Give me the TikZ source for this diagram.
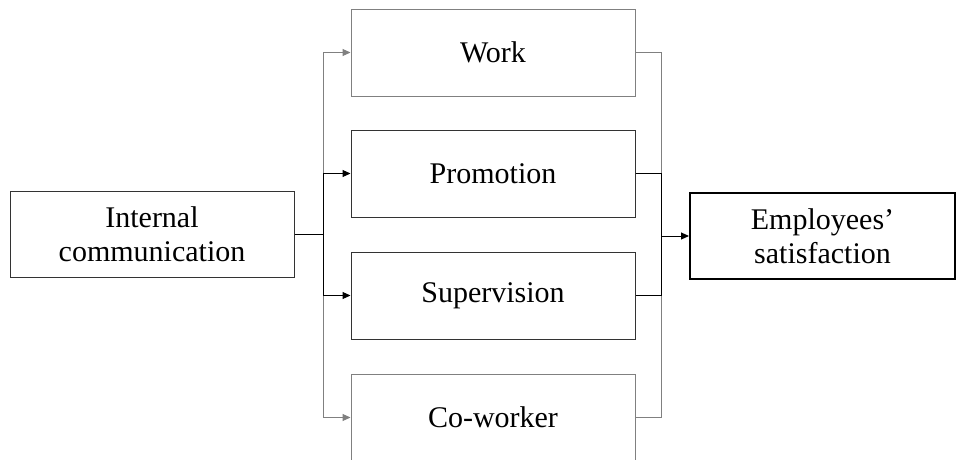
\documentclass[tikz,border=0pt]{standalone}
\usepackage{fontspec}
\setmainfont{Liberation Serif}
\usetikzlibrary{arrows.meta}
\definecolor{lgray}{RGB}{128,128,128}
\begin{document}
\begin{tikzpicture}[x=1pt,y=-1pt,
  box/.style={draw=lgray,line width=1pt,minimum width=284pt,minimum height=87pt,inner sep=0pt,align=center,font=\fontsize{30}{34}\selectfont},
  conn/.style={line width=1pt},
  arr/.style={conn,-{Triangle[length=8pt,width=7pt]}}]
\useasboundingbox (0,0) rectangle (962,459);
\clip (0,0) rectangle (962,459);
\fill[white] (0,0) rectangle (962,459);
\node[box,draw=black!80,minimum height=86pt] (int) at (152,234) {Internal\\communication};
\node[box] (work) at (493,52.5) {Work};
\node[box,draw=black!80] (prom) at (493,173.5) {Promotion};
\node[box,draw=black!80] (sup) at (493,295.5) {Supervision};
\node[box] (co) at (493,417.5) {Co-worker};
\node[box,draw=black,line width=2pt,minimum width=265pt,minimum height=86pt] (emp) at (822.5,236) {Employees’\\satisfaction};
\coordinate (lb) at (323,234);
\coordinate (rb) at (661,236);
% left bus
\draw[conn,black] (int.east) -- (lb);
\draw[conn,lgray] (lb |- work.west) -- (lb |- co.west);
\draw[conn,black] (lb |- prom.west) -- (lb |- sup.west);
\draw[arr,lgray] (lb |- work.west) -- (work.west);
\draw[arr,black] (lb |- prom.west) -- (prom.west);
\draw[arr,black] (lb |- sup.west) -- (sup.west);
\draw[arr,lgray] (lb |- co.west) -- (co.west);
% right bus
\draw[conn,lgray] (work.east) -| (rb |- co.east) -- (co.east);
\draw[conn,black] (prom.east) -| (rb |- sup.east) -- (sup.east);
\draw[arr,black] (rb) -- (emp.west);
\end{tikzpicture}
\end{document}
